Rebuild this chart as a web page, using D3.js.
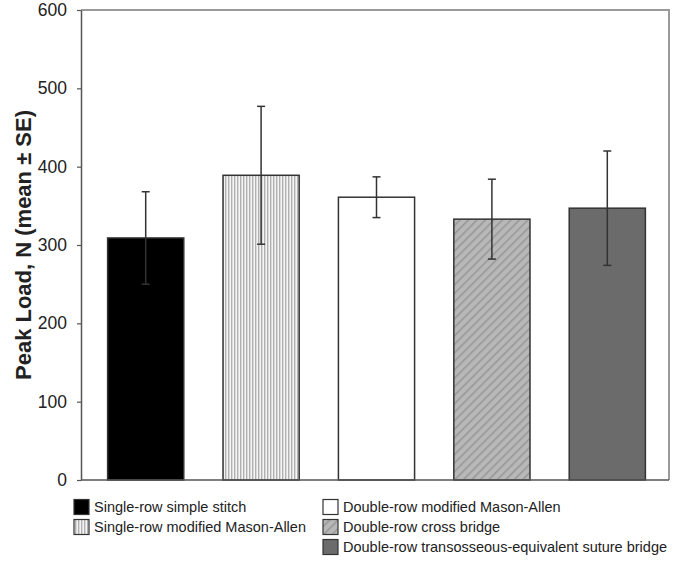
<!DOCTYPE html>
<html><head><meta charset="utf-8">
<script src="https://cdn.jsdelivr.net/npm/d3@7"></script>
<style>body{margin:0;background:#fff}svg{display:block;font-family:Arial,"Liberation Sans",sans-serif}</style>
</head><body><svg id="c" width="674" height="565"></svg>
<script>
const categories = ["Single-row simple stitch","Single-row modified Mason-Allen","Double-row modified Mason-Allen","Double-row cross bridge","Double-row transosseous-equivalent suture bridge"];
const means = [309, 389, 361, 333, 347];
const errors = [59, 88, 26, 51, 73];
const yTicks = [0,100,200,300,400,500,600];
const fills = ["#000000","url(#vstripe)","#ffffff","url(#diag)","#6b6b6b"];

(function(){
const svg = d3.select("#c");
const defs = svg.append("defs");
const vs = defs.append("pattern").attr("id","vstripe").attr("patternUnits","userSpaceOnUse").attr("width",3).attr("height",4);
vs.append("rect").attr("width",3).attr("height",4).attr("fill","#dadada");
vs.append("rect").attr("x",0).attr("width",1).attr("height",4).attr("fill","#b0b0b0");
vs.append("rect").attr("x",2).attr("width",1).attr("height",4).attr("fill","#f4f4f4");
const dg = defs.append("pattern").attr("id","diag").attr("patternUnits","userSpaceOnUse").attr("width",6).attr("height",6).attr("patternTransform","rotate(45)");
dg.append("rect").attr("width",6).attr("height",6).attr("fill","#b8b8b8");
dg.append("rect").attr("x",0).attr("width",1.5).attr("height",6).attr("fill","#969696");

const pL = 81, pR = 669, pT = 10, pB = 480;
const x = d3.scaleBand().domain(categories).range([88, 665]).paddingInner(0.34).paddingOuter(0.17);
const y = d3.scaleLinear().domain([0, 600]).range([pB, pT]);

svg.append("path").attr("d", `M${pL},${pT}H${pR}V${pB}`).attr("fill","none").attr("stroke","#9a9a9a").attr("stroke-width",2);

svg.append("g").selectAll("rect").data(categories).join("rect")
  .attr("x", d => x(d)).attr("width", x.bandwidth())
  .attr("y", (d,i) => y(means[i])).attr("height", (d,i) => y(0) - y(means[i]))
  .attr("fill", (d,i) => fills[i]).attr("stroke", "#333").attr("stroke-width", 1.5);

const eg = svg.append("g").attr("stroke","#333").attr("stroke-width",1.5);
categories.forEach((c,i) => {
  const cx = x(c) + x.bandwidth()/2;
  eg.append("line").attr("x1",cx).attr("x2",cx).attr("y1",y(means[i]-errors[i])).attr("y2",y(means[i]+errors[i]));
  [means[i]-errors[i], means[i]+errors[i]].forEach(v => {
    eg.append("line").attr("x1",cx-4).attr("x2",cx+4).attr("y1",y(v)).attr("y2",y(v));
  });
});

const ya = svg.append("g").attr("transform",`translate(${pL},0)`)
  .call(d3.axisLeft(y).tickValues(yTicks).tickSize(4).tickPadding(10).tickSizeOuter(0));
ya.select(".domain").attr("stroke","#555").attr("stroke-width",1.5);
ya.selectAll(".tick line").attr("stroke","#555").attr("stroke-width",1.2);
ya.selectAll(".tick text").attr("font-size",17.5).attr("fill","#222").attr("font-family","Arial, 'Liberation Sans', sans-serif");

svg.append("line").attr("x1",pL).attr("x2",pR).attr("y1",pB).attr("y2",pB).attr("stroke","#555").attr("stroke-width",1.5);

svg.append("text").attr("transform",`translate(31,${(pT+pB)/2}) rotate(-90)`)
  .attr("text-anchor","middle").attr("font-size",22).attr("font-weight","bold").attr("fill","#222")
  .text("Peak Load, N (mean ± SE)");

const legPos = [[74,507],[74,527],[323,507],[323,527],[323,547]];
const lg = svg.append("g");
categories.forEach((c,i) => {
  const [lx, ly] = legPos[i];
  lg.append("rect").attr("x",lx).attr("y",ly-7.5).attr("width",15).attr("height",15)
    .attr("fill",fills[i]).attr("stroke","#333").attr("stroke-width",1.2);
  lg.append("text").attr("x",lx+20).attr("y",ly).attr("dy","0.35em").attr("font-size",14.5).attr("fill","#222").text(c);
});
})();
</script></body></html>
